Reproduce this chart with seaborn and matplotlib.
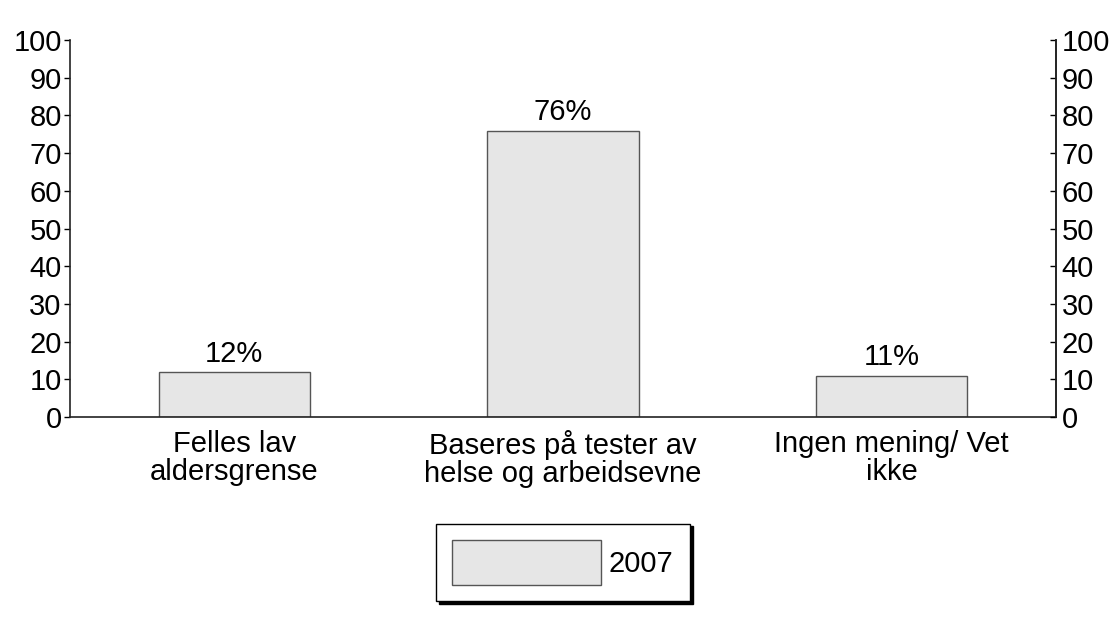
import pandas as pd
import numpy as np
import matplotlib
matplotlib.use("Agg")
import matplotlib.pyplot as plt
import seaborn as sns

# Data
categories = ["Felles lav\naldersgrense",
              "Baseres på tester av\nhelse og arbeidsevne",
              "Ingen mening/ Vet\nikke"]
values_2007 = [12, 76, 11]
series_name = "2007"
yticks = [0, 10, 20, 30, 40, 50, 60, 70, 80, 90, 100]

df = pd.DataFrame({"kategori": categories, "andel": values_2007})

sns.set_style("white")
plt.rcParams["font.family"] = ["Liberation Sans", "DejaVu Sans"]
plt.rcParams["text.color"] = "black"
plt.rcParams["xtick.color"] = "black"
plt.rcParams["ytick.color"] = "black"
fs = 21

fig = plt.figure(figsize=(11.2, 6.36), dpi=100)
ax = fig.add_axes([0.0625, 0.3443, 0.8805, 0.5927])

sns.barplot(data=df, x="kategori", y="andel", color="#e6e6e6",
            edgecolor="#555555", linewidth=1, width=0.46, ax=ax,
            label=series_name, saturation=1)

handles, labels = ax.get_legend_handles_labels()
if ax.get_legend() is not None:
    ax.get_legend().remove()

ax.set_xlim(-0.5, 2.5)
ax.set_ylim(0, 100)
ax.set_yticks(yticks)
ax.set_xlabel("")
ax.set_ylabel("")
ax.tick_params(axis="y", direction="out", length=4, width=1, pad=2,
               labelsize=fs, colors="black")
ax.tick_params(axis="x", length=0, pad=9, labelsize=fs, labelcolor="black")
for lbl in ax.get_xticklabels():
    lbl.set_linespacing(1.0)

ax.spines["top"].set_visible(False)
for s in ["left", "bottom", "right"]:
    ax.spines[s].set_color("#222222")
    ax.spines[s].set_linewidth(1.2)

ax.bar_label(ax.containers[0], fmt="%d%%", fontsize=fs, padding=3, color="black")

ax2 = ax.twinx()
ax2.set_ylim(0, 100)
ax2.set_yticks(yticks)
ax2.tick_params(axis="y", direction="in", length=4, width=1, pad=4,
                labelsize=fs, colors="black")
for s in ["top", "left", "bottom"]:
    ax2.spines[s].set_visible(False)
ax2.spines["right"].set_color("#222222")
ax2.spines["right"].set_linewidth(1.2)

leg = fig.legend(handles, labels, loc="center", bbox_to_anchor=(0.5027, 0.1156),
                 fontsize=fs, frameon=True, fancybox=False,
                 shadow={"color": "black", "alpha": 1},
                 handlelength=5.1, handleheight=2.03, handletextpad=0.27,
                 borderpad=0.55, borderaxespad=0)
leg.get_frame().set_edgecolor("black")
leg.get_frame().set_linewidth(1)
for t in leg.get_texts():
    t.set_color("black")

fig.savefig("out.png", dpi=100)
